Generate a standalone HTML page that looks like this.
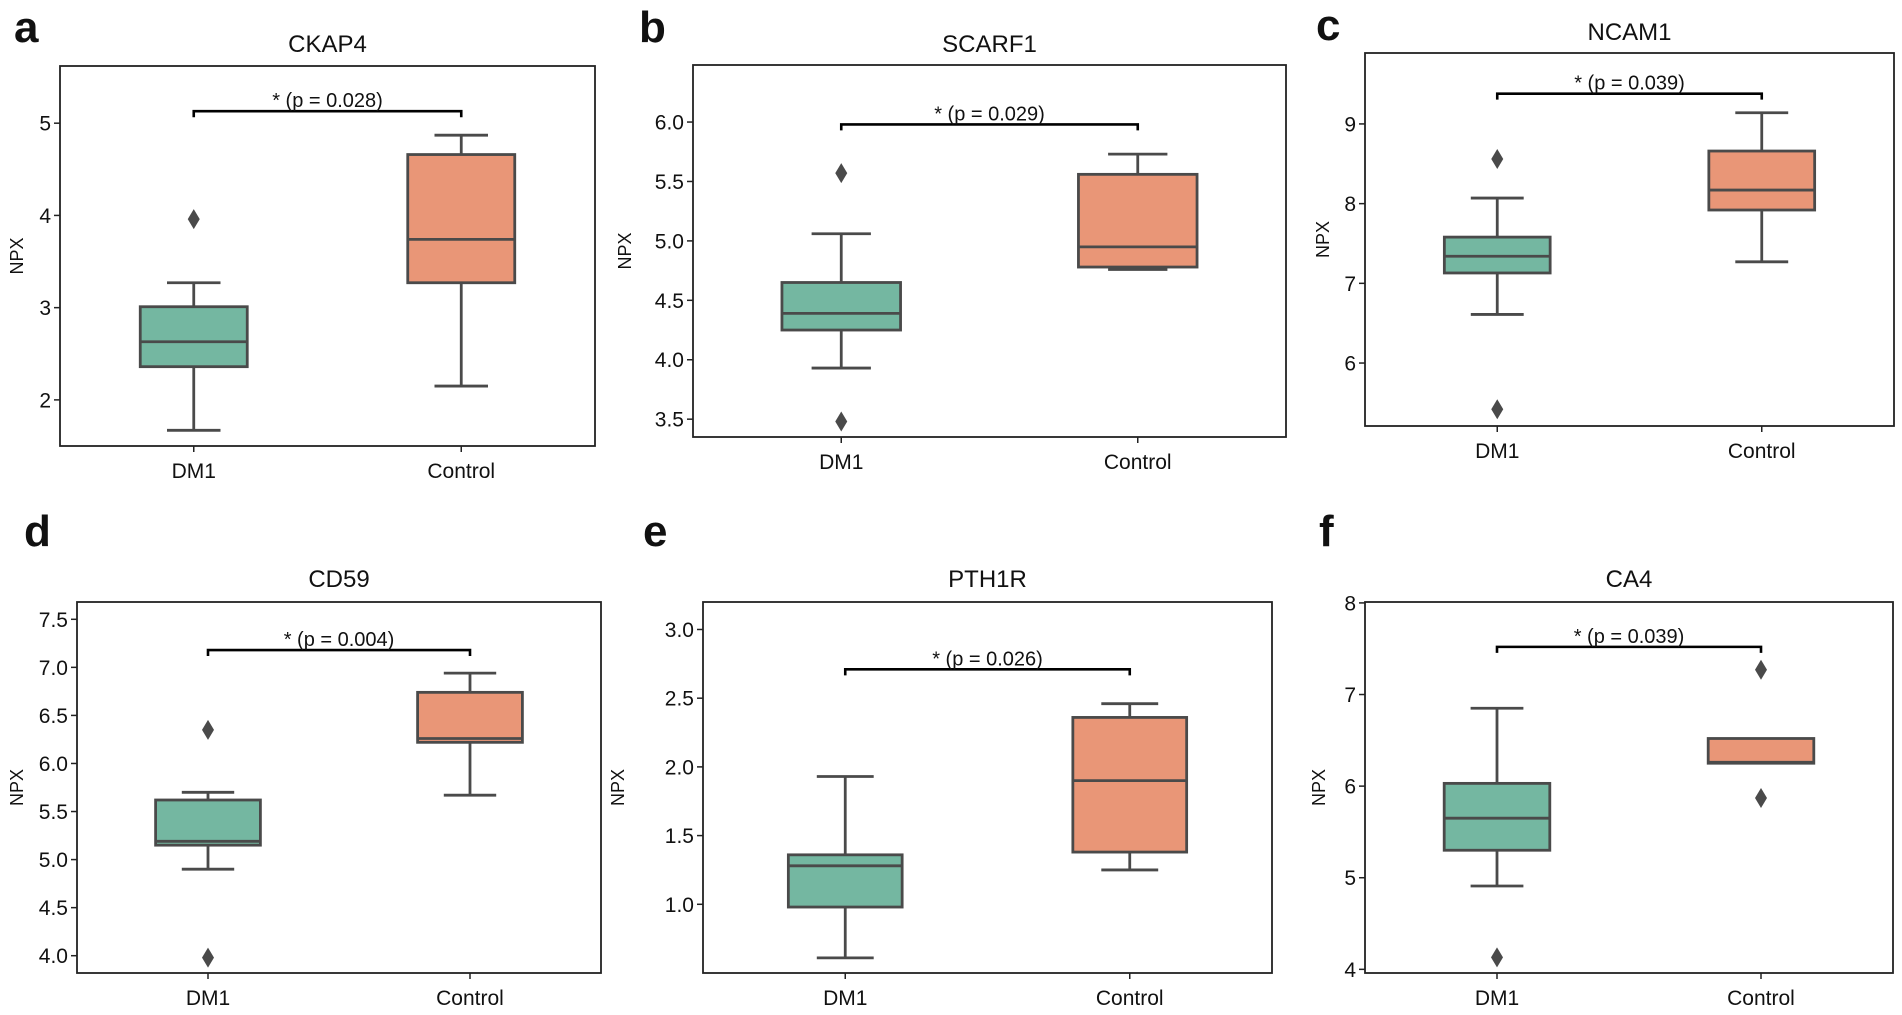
<!DOCTYPE html>
<html><head><meta charset="utf-8"><style>
html,body{margin:0;padding:0;background:#fff;}
svg{display:block;}
text{font-family:"Liberation Sans","DejaVu Sans",sans-serif;fill:#111;}
</style></head><body>
<svg id="fig" width="1902" height="1015" viewBox="0 0 1902 1015" xmlns="http://www.w3.org/2000/svg"></svg>
<script>
// ---- data (box stats: [lowWhisker, q1, median, q3, highWhisker]) ----
const categories = ["DM1", "Control"];
const titles = ["CKAP4", "SCARF1", "NCAM1", "CD59", "PTH1R", "CA4"];
const letters = ["a", "b", "c", "d", "e", "f"];
const pLabels = ["* (p = 0.028)", "* (p = 0.029)", "* (p = 0.039)", "* (p = 0.004)", "* (p = 0.026)", "* (p = 0.039)"];
const ckap4Dm1 = [1.67, 2.36, 2.63, 3.01, 3.27];
const ckap4Ctrl = [2.15, 3.27, 3.74, 4.66, 4.87];
const scarf1Dm1 = [3.93, 4.25, 4.39, 4.65, 5.06];
const scarf1Ctrl = [4.76, 4.78, 4.95, 5.56, 5.73];
const ncam1Dm1 = [6.61, 7.13, 7.34, 7.58, 8.07];
const ncam1Ctrl = [7.27, 7.92, 8.17, 8.66, 9.14];
const cd59Dm1 = [4.90, 5.15, 5.19, 5.62, 5.70];
const cd59Ctrl = [5.67, 6.22, 6.26, 6.74, 6.94];
const pth1rDm1 = [0.61, 0.98, 1.28, 1.36, 1.93];
const pth1rCtrl = [1.25, 1.38, 1.90, 2.36, 2.46];
const ca4Dm1 = [4.91, 5.30, 5.65, 6.03, 6.85];
const ca4Ctrl = [6.25, 6.25, 6.26, 6.52, 6.52];
const ckap4Out = [[3.96], []];
const scarf1Out = [[5.57, 3.48], []];
const ncam1Out = [[8.56, 5.42], []];
const cd59Out = [[6.35, 3.98], []];
const pth1rOut = [[], []];
const ca4Out = [[4.13], [7.27, 5.87]];
const bracketY = [5.13, 5.98, 9.38, 7.18, 2.71, 7.52];
const yDomains = [[1.50, 5.62], [3.35, 6.48], [5.21, 9.89], [3.82, 7.68], [0.50, 3.20], [3.96, 8.01]];
const yTicks = [[2, 3, 4, 5], [3.5, 4.0, 4.5, 5.0, 5.5, 6.0], [6, 7, 8, 9], [4.0, 4.5, 5.0, 5.5, 6.0, 6.5, 7.0, 7.5], [1.0, 1.5, 2.0, 2.5, 3.0], [4, 5, 6, 7, 8]];
const tickDecimals = [0, 1, 0, 1, 1, 0];

// ---- layout ----
const frames = [
  {l:60, r:595, t:66, b:446, title:52, letter:[14,42], ylab:17},
  {l:693, r:1286, t:65, b:437, title:52, letter:[639,42], ylab:625},
  {l:1365, r:1894, t:53, b:426, title:40, letter:[1316,40], ylab:1323},
  {l:77, r:601, t:602, b:973, title:587, letter:[24,546], ylab:17},
  {l:703, r:1272, t:602, b:973, title:587, letter:[643,546], ylab:618},
  {l:1365, r:1893, t:602, b:973, title:587, letter:[1319,546], ylab:1319}
];
const boxes = [[ckap4Dm1, ckap4Ctrl],[scarf1Dm1, scarf1Ctrl],[ncam1Dm1, ncam1Ctrl],[cd59Dm1, cd59Ctrl],[pth1rDm1, pth1rCtrl],[ca4Dm1, ca4Ctrl]];
const outs = [ckap4Out, scarf1Out, ncam1Out, cd59Out, pth1rOut, ca4Out];
const fills = ["#74b7a1", "#e99677"];
const EDGE = "#4a4a4a";
const NS = "http://www.w3.org/2000/svg";
const svg = document.getElementById('fig');

function mk(tag, attrs, parent, txt) {
  const e = document.createElementNS(NS, tag);
  for (const k in attrs) e.setAttribute(k, attrs[k]);
  if (txt !== undefined) e.textContent = txt;
  parent.appendChild(e);
  return e;
}

frames.forEach((f, i) => {
  const g = mk('g', {}, svg);
  
  
  const [d0, d1] = yDomains[i];
  const y = v => f.b - (v - d0) / (d1 - d0) * (f.b - f.t);
  const unit = (f.r - f.l) / 2;
  const x = c => f.l + unit * (c + 0.5);

  const L = mk('text', {x: f.letter[0], y: f.letter[1], 'font-size': 44, 'font-weight': 'bold', fill: '#000'}, g, letters[i]);
  
  
  const T = mk('text', {x: (f.l + f.r) / 2, y: f.title, 'font-size': 24, 'text-anchor': 'middle'}, g, titles[i]);
  
  
  const yl = mk('text', {x: 0, y: 0, 'font-size': 18, 'text-anchor': 'middle', transform: `translate(${f.ylab + 6},${(f.t + f.b) / 2}) rotate(-90)`}, g, 'NPX');
  
  

  yTicks[i].forEach(v => {
    const yy = y(v);
    mk('line', {x1: f.l - 6, x2: f.l, y1: yy, y2: yy, stroke: '#222', 'stroke-width': 1.5}, g);
    const t = mk('text', {x: f.l - 9, y: yy + 7.5, 'font-size': 21, 'text-anchor': 'end'}, g, v.toFixed(tickDecimals[i]));
    
    
  });
  categories.forEach((c, ci) => {
    mk('line', {x1: x(ci), x2: x(ci), y1: f.b, y2: f.b + 6, stroke: '#222', 'stroke-width': 1.5}, g);
    const t = mk('text', {x: x(ci), y: f.b + 32, 'font-size': 21, 'text-anchor': 'middle'}, g, c);
    
    
  });

  const bw = unit * 0.4, cw = bw / 2;
  boxes[i].forEach((s, ci) => {
    const cx = x(ci);
    const bg = mk('g', {}, g);
    
    
    const st = {stroke: EDGE, 'stroke-width': 2.8};
    if (s[4] > s[3]) {
      mk('line', Object.assign({x1: cx, x2: cx, y1: y(s[3]), y2: y(s[4])}, st), bg);
      mk('line', Object.assign({x1: cx - cw / 2, x2: cx + cw / 2, y1: y(s[4]), y2: y(s[4])}, st), bg);
    }
    if (s[0] < s[1]) {
      mk('line', Object.assign({x1: cx, x2: cx, y1: y(s[1]), y2: y(s[0])}, st), bg);
      mk('line', Object.assign({x1: cx - cw / 2, x2: cx + cw / 2, y1: y(s[0]), y2: y(s[0])}, st), bg);
    }
    mk('rect', Object.assign({x: cx - bw / 2, y: y(s[3]), width: bw, height: Math.max(1, y(s[1]) - y(s[3])), fill: fills[ci]}, st), bg);
    mk('line', Object.assign({x1: cx - bw / 2, x2: cx + bw / 2, y1: y(s[2]), y2: y(s[2])}, st), bg);
    outs[i][ci].forEach(v => {
      const yy = y(v);
      const o = mk('path', {d: `M${cx},${yy - 10} L${cx + 6},${yy} L${cx},${yy + 10} L${cx - 6},${yy} Z`, fill: EDGE}, bg);
      
      
    });
  });

  const by = y(bracketY[i]);
  const br = mk('path', {d: `M${x(0)},${by + 6} V${by} H${x(1)} V${by + 6}`, fill: 'none', stroke: '#000', 'stroke-width': 2.6}, g);
  
  
  const pt = mk('text', {x: (x(0) + x(1)) / 2, y: by - 4, 'font-size': 20, 'text-anchor': 'middle'}, g, pLabels[i]);
  
  

  const fr = mk('rect', {x: f.l, y: f.t, width: f.r - f.l, height: f.b - f.t, fill: 'none', stroke: '#222', 'stroke-width': 1.8}, g);
  
  
});
</script>
</body></html>
